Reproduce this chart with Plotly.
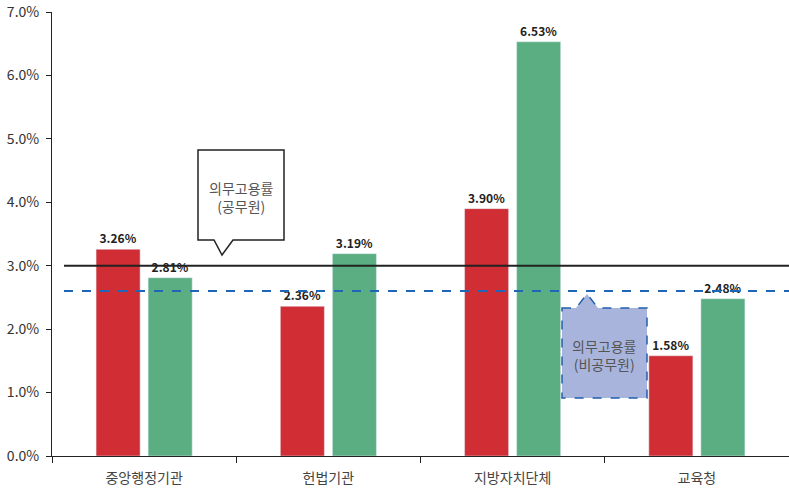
import plotly.graph_objects as go

categories = ["중앙행정기관", "헌법기관", "지방자치단체", "교육청"]
public_rate = [3.26, 2.36, 3.90, 1.58]
nonpublic_rate = [2.81, 3.19, 6.53, 2.48]
quota_public = 3.0
quota_nonpublic = 2.6
y_ticks = [0, 1, 2, 3, 4, 5, 6, 7]

W, H = 789, 493
L, R, T, B = 52, 0, 12, 37
pw, ph = W - L - R, H - T - B

def px(x):
    return (x - L) / pw

def py(y):
    return (H - B - y) / ph

font = "Noto Sans CJK KR, Noto Sans, sans-serif"

fig = go.Figure()
fig.add_trace(go.Bar(x=categories, y=public_rate, marker_color="#d02d34",
                     texttemplate="%{y:.2f}%", textposition="outside",
                     textfont=dict(size=12, color="#222", family=font, weight="bold"),
                     cliponaxis=False, name="공무원"))
fig.add_trace(go.Bar(x=categories, y=nonpublic_rate, marker_color="#5aae82",
                     texttemplate="%{y:.2f}%", textposition="outside",
                     textfont=dict(size=12, color="#222", family=font, weight="bold"),
                     cliponaxis=False, name="비공무원"))

shapes = []
shapes.append(dict(type="line", xref="paper", yref="y", x0=px(64), x1=1,
                   y0=quota_public, y1=quota_public, line=dict(color="#222", width=2)))
shapes.append(dict(type="line", xref="paper", yref="y", x0=px(64), x1=1,
                   y0=quota_nonpublic, y1=quota_nonpublic,
                   line=dict(color="#1f66b8", width=2, dash="dash")))

def path(pts):
    s = "M " + " L ".join(f"{px(a):.5f},{py(b):.5f}" for a, b in pts) + " Z"
    return s

black_pts = [(198, 150), (284, 150), (284, 240), (233, 240), (222, 255), (214, 240), (198, 240)]
shapes.append(dict(type="path", xref="paper", yref="paper", path=path(black_pts),
                   fillcolor="white", line=dict(color="#222", width=1.5), layer="above"))
blue_pts = [(562, 308), (576, 308), (587, 294), (598, 308), (647, 308), (647, 398), (562, 398)]
shapes.append(dict(type="path", xref="paper", yref="paper", path=path(blue_pts),
                   fillcolor="#a9b4dc", line=dict(color="#1f5fae", width=1.5, dash="dash"),
                   layer="above"))

annotations = [
    dict(xref="paper", yref="paper", x=px(241), y=py(197), text="의무고용률<br>(공무원)",
         xanchor="center", yanchor="middle",
         showarrow=False, font=dict(size=14, color="#555", family=font), align="center"),
    dict(xref="paper", yref="paper", x=px(604), y=py(355), text="의무고용률<br>(비공무원)",
         xanchor="center", yanchor="middle",
         showarrow=False, font=dict(size=14, color="#555", family=font), align="center"),
]

fig.update_layout(
    width=W, height=H,
    margin=dict(l=L, r=R, t=T, b=B, autoexpand=False),
    paper_bgcolor="white", plot_bgcolor="white",
    barmode="group", bargap=0.435, bargroupgap=0.154,
    showlegend=False,
    shapes=shapes, annotations=annotations,
    font=dict(family=font, size=14, color="#333"),
)
fig.update_xaxes(range=[-0.5, 3.5], showline=True, linecolor="#222", linewidth=1,
                 ticks="outside", tickson="boundaries", ticklen=6, tickcolor="#222",
                 showgrid=False, tickfont=dict(size=14, color="#444"), automargin=False,
                 ticklabelstandoff=9)
fig.update_yaxes(range=[0, 7], tickvals=y_ticks, ticktext=[f"{v:.1f}%" for v in y_ticks],
                 showline=True, linecolor="#222", linewidth=1, ticks="outside",
                 ticklen=5, tickcolor="#222", showgrid=False, zeroline=False,
                 tickfont=dict(size=14, color="#333"), automargin=False,
                 ticklabelstandoff=4)

fig.write_html("out.html", config={"displayModeBar": False},
               post_script="document.body.style.margin='0px';")
